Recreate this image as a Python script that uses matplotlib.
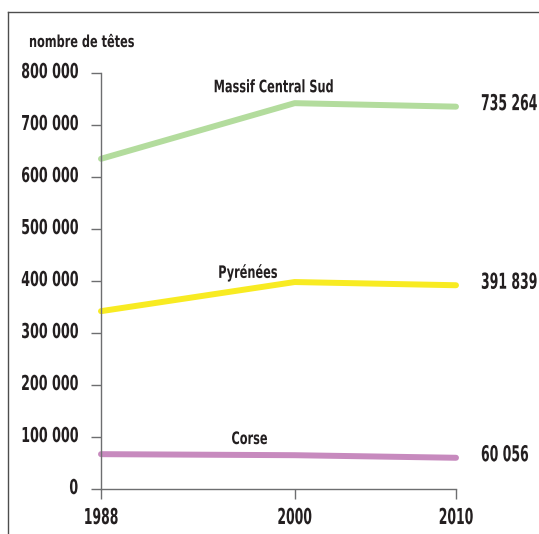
import matplotlib
matplotlib.use("Agg")
import matplotlib.pyplot as plt
from matplotlib.lines import Line2D
from matplotlib.patheffects import AbstractPathEffect
from matplotlib.transforms import Affine2D
from matplotlib.textpath import TextPath

years = [1988, 2000, 2010]
massif_central_sud = [635000, 742000, 735264]
pyrenees = [342000, 398000, 391839]
corse = [67000, 65000, 60056]
series_names = ["Massif Central Sud", "Pyrénées", "Corse"]
series_colors = ["#b3dc9d", "#f8eb22", "#c78abe"]
y_ticks = [0, 100000, 200000, 300000, 400000, 500000, 600000, 700000, 800000]
y_tick_labels = ["0", "100 000", "200 000", "300 000", "400 000", "500 000",
                 "600 000", "700 000", "800 000"]
end_labels = ["735 264", "391 839", "60 056"]
y_title = "nombre de têtes"

plt.rcParams["font.family"] = ["DejaVu Sans"]
plt.rcParams["font.weight"] = "bold"

DPI = 100


class Tall(AbstractPathEffect):
    """Draw text stretched vertically about its baseline (condensed look)."""

    def __init__(self, sy):
        super().__init__()
        self.sy = sy

    def draw_path(self, renderer, gc, tpath, affine, rgbFace=None):
        renderer.draw_path(gc, tpath, Affine2D().scale(1.0, self.sy) + affine, rgbFace)


def condensed_style(texts, sample, width_px, cap_px):
    """Size texts so `sample` is width_px wide, then stretch to cap_px tall."""
    prop = texts[0].get_fontproperties()
    w1 = TextPath((0, 0), sample, size=1, prop=prop).get_extents().width
    cap1 = TextPath((0, 0), "H", size=1, prop=prop).get_extents().y1
    fs_px = width_px / w1
    sy = cap_px / (cap1 * fs_px)
    for t in texts:
        t.set_fontsize(fs_px * 72 / DPI)
        t.set_path_effects([Tall(sy)])


W, H = 539, 534
fig = plt.figure(figsize=(W / DPI, H / DPI), dpi=DPI)
ax = fig.add_axes([101 / W, 1 - 489 / H, (456 - 101) / W, (489 - 73) / H])

text_color = "#231f20"
axis_color = "#6d6e70"

all_series = [massif_central_sud, pyrenees, corse]
for vals, col in zip(all_series, series_colors):
    ax.plot(years, vals, color=col, lw=4.3, solid_capstyle="round",
            solid_joinstyle="round", clip_on=False)

ax.set_xlim(1988, 2010)
ax.set_ylim(0, 800000)
ax.set_xticks(years)
ax.set_xticklabels([str(y) for y in years])
ax.set_yticks(y_ticks)
ax.set_yticklabels(y_tick_labels)

for s in ["top", "right"]:
    ax.spines[s].set_visible(False)
for s in ["left", "bottom"]:
    ax.spines[s].set_color(axis_color)
    ax.spines[s].set_linewidth(1.0)

ax.tick_params(axis="y", direction="out", length=7.5, width=1.0, color=axis_color,
               labelcolor=text_color, pad=9)
ax.tick_params(axis="x", direction="out", length=7, width=1.0, color=axis_color,
               labelcolor=text_color, pad=11)
condensed_style(ax.get_yticklabels(), "800 000", 56, 15)
condensed_style(ax.get_xticklabels(), "2010", 33, 16)

# series names above the lines
name_pos = [(1998.7, 763000), (1997.1, 406000), (1997.2, 86500)]
name_texts = [ax.text(x, y, name, ha="center", va="baseline", color=text_color)
              for name, (x, y) in zip(series_names, name_pos)]
condensed_style(name_texts, "Massif Central Sud", 118, 12.5)

# final values at the right end of each line
end_texts = [ax.annotate(lab, xy=(years[-1], vals[-1]), xytext=(18, -2.5),
                         textcoords="offset points", ha="left", va="baseline",
                         color=text_color, annotation_clip=False)
             for vals, lab in zip(all_series, end_labels)]
condensed_style(end_texts, "735 264", 55, 16)

title = fig.text(29 / W, 1 - 47 / H, y_title, ha="left", va="baseline",
                 color=text_color)
condensed_style([title], y_title, 104, 12)

# frame lines
fig.add_artist(Line2D([8 / W, 8 / W], [0, 1 - 12 / H], transform=fig.transFigure,
                      color="#4d4d4d", lw=1.0))
fig.add_artist(Line2D([8 / W, 1], [1 - 12 / H, 1 - 12 / H], transform=fig.transFigure,
                      color="#4d4d4d", lw=1.0))

fig.savefig("out.png", dpi=DPI)
